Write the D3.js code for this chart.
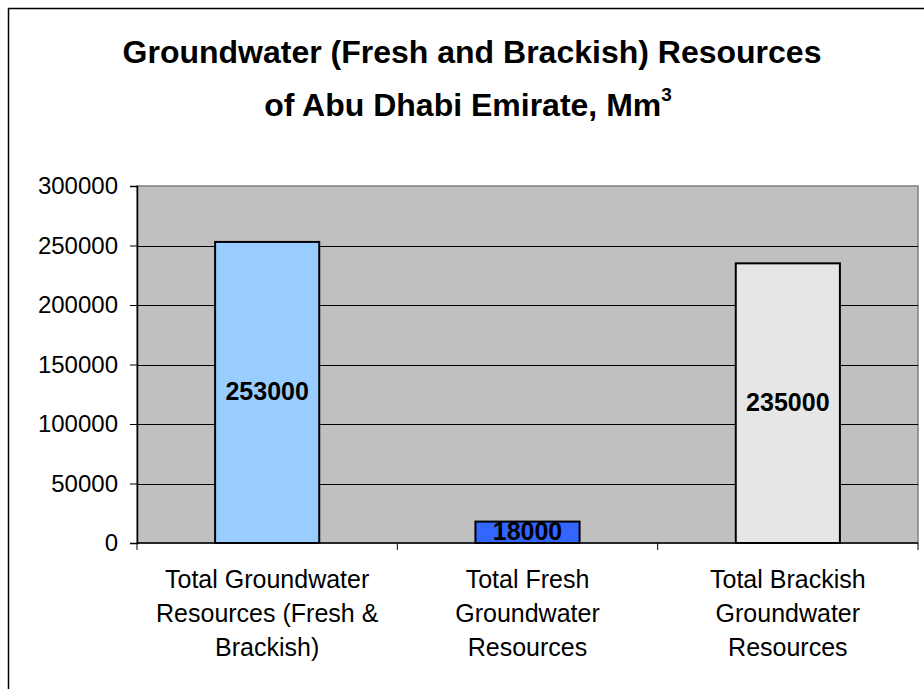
<!DOCTYPE html>
<html>
<head>
  <title>Groundwater Resources</title>
  <script src="https://d3js.org/d3.v7.min.js"></script>
  <style>
    body { margin: 0; background: #fff; }
    text { font-family: "Liberation Sans", Arial, sans-serif; }
  </style>
</head>
<body>
<script type="text/javascript">
  // data
  var categories = [
    ["Total Groundwater", "Resources (Fresh &", "Brackish)"],
    ["Total Fresh", "Groundwater", "Resources"],
    ["Total Brackish", "Groundwater", "Resources"]
  ];
  var values = [253000, 18000, 235000];
  var colors = ["#99ccff", "#3366ff", "#e6e6e6"];
  var yTicks = [0, 50000, 100000, 150000, 200000, 250000, 300000];

  var w = 924, h = 689;
  var pLeft = 137, pRight = 918, pTop = 186, pBottom = 543;

  var svg = d3.select("body").append("svg")
    .attr("width", w)
    .attr("height", h);

  // outer chart border (runs off the right and bottom edges)
  svg.append("rect")
    .attr("x", 8.5).attr("y", 8.5)
    .attr("width", w + 20).attr("height", h + 20)
    .attr("fill", "#fff")
    .attr("stroke", "#000")
    .attr("stroke-width", 1.5);

  // title
  var title = svg.append("text")
    .attr("text-anchor", "middle")
    .attr("font-size", "32px")
    .attr("font-weight", "bold");
  title.append("tspan").attr("x", 472).attr("y", 63)
    .text("Groundwater (Fresh and Brackish) Resources");
  var t2 = title.append("tspan").attr("x", 468).attr("y", 116);
  t2.append("tspan").text("of Abu Dhabi Emirate, Mm");
  t2.append("tspan").attr("font-size", "19px").attr("dy", -15).text("3");

  var x = d3.scaleBand()
    .domain(d3.range(values.length))
    .range([pLeft, pRight])
    .paddingInner(0.6)
    .paddingOuter(0.3);

  var y = d3.scaleLinear()
    .domain([0, 300000])
    .range([pBottom, pTop]);

  // plot area
  svg.append("rect")
    .attr("x", pLeft).attr("y", pTop)
    .attr("width", pRight - pLeft).attr("height", pBottom - pTop)
    .attr("fill", "#c0c0c0")
    .attr("stroke", "#808080")
    .attr("stroke-width", 1.5);

  // gridlines
  svg.selectAll(".grid")
    .data(yTicks.filter(function(d){ return d > 0 && d < 300000; }))
    .enter().append("line")
    .attr("x1", pLeft).attr("x2", pRight)
    .attr("y1", function(d){ return Math.round(y(d)) + 0.5; })
    .attr("y2", function(d){ return Math.round(y(d)) + 0.5; })
    .attr("stroke", "#000")
    .attr("stroke-width", 1);

  // bars
  svg.selectAll(".bar")
    .data(values)
    .enter().append("rect")
    .attr("x", function(d, i){ return x(i); })
    .attr("y", function(d){ return y(d); })
    .attr("width", x.bandwidth())
    .attr("height", function(d){ return pBottom - y(d); })
    .attr("fill", function(d, i){ return colors[i]; })
    .attr("stroke", "#000")
    .attr("stroke-width", 2);

  // bar value labels
  svg.selectAll(".val")
    .data(values)
    .enter().append("text")
    .attr("x", function(d, i){ return x(i) + x.bandwidth() / 2; })
    .attr("y", function(d){ return (y(d) + pBottom) / 2 + 8; })
    .attr("text-anchor", "middle")
    .attr("font-size", "25px")
    .attr("font-weight", "bold")
    .text(function(d){ return d; });

  // y axis
  var yAxis = d3.axisLeft(y)
    .tickValues(yTicks)
    .tickSize(7)
    .tickPadding(12)
    .tickFormat(d3.format("d"));
  var ya = svg.append("g")
    .attr("transform", "translate(" + pLeft + ",0)")
    .call(yAxis);
  ya.select(".domain").attr("stroke", "#000").attr("stroke-width", 1.5);
  ya.selectAll(".tick line").attr("stroke", "#000");
  ya.selectAll(".tick text")
    .attr("font-size", "24px")
    .attr("fill", "#000")
    .attr("font-family", "Liberation Sans, Arial, sans-serif");

  // x axis line with ticks at category boundaries
  var step = (pRight - pLeft) / values.length;
  svg.append("line")
    .attr("x1", pLeft).attr("x2", pRight)
    .attr("y1", pBottom).attr("y2", pBottom)
    .attr("stroke", "#000").attr("stroke-width", 1.5);
  svg.selectAll(".xtick")
    .data(d3.range(values.length + 1))
    .enter().append("line")
    .attr("x1", function(i){ return pLeft + step * i; })
    .attr("x2", function(i){ return pLeft + step * i; })
    .attr("y1", pBottom).attr("y2", pBottom + 7)
    .attr("stroke", "#000");

  // category labels
  svg.selectAll(".cat")
    .data(categories)
    .enter().append("text")
    .attr("text-anchor", "middle")
    .attr("font-size", "25px")
    .each(function(lines, i){
      var cx = x(i) + x.bandwidth() / 2;
      d3.select(this).selectAll("tspan")
        .data(lines)
        .enter().append("tspan")
        .attr("x", cx)
        .attr("y", function(d, j){ return 588 + j * 34; })
        .text(function(d){ return d; });
    });
</script>
</body>
</html>
